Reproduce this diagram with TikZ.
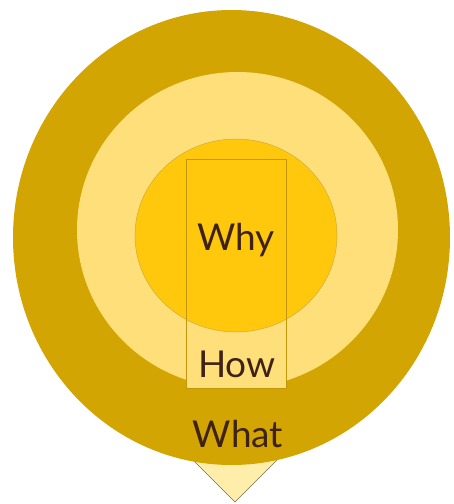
\documentclass[tikz,border=0pt]{standalone}
\usepackage{fontspec}
\setmainfont{Lato}
\definecolor{outerc}{RGB}{211,165,2}
\definecolor{midc}{RGB}{255,223,122}
\definecolor{innerc}{RGB}{255,200,12}
\definecolor{edgec}{RGB}{196,150,10}
\definecolor{tric}{RGB}{255,238,170}
\definecolor{tril}{RGB}{120,110,80}
\definecolor{txtc}{RGB}{62,34,22}
\tikzset{
  lbl/.style={text=txtc, font=\fontsize{37}{40}\selectfont, inner sep=0pt},
  boxline/.style={draw=edgec, line width=0.9pt},
}
\begin{document}
\begin{tikzpicture}[x=1pt,y=-1pt]
\useasboundingbox (0,0) rectangle (454,504);
\fill[white] (0,0) rectangle (454,504);
% pointer triangle
\coordinate (tl) at (185,452);
\coordinate (tr) at (285,452);
\coordinate (apex) at (235,502);
\filldraw[fill=tric, draw=tril, line width=0.6pt] (tl) -- (apex) -- (tr) -- cycle;
% outer ring
\fill[outerc] (231.5,237.5) ellipse [x radius=218.5, y radius=227.5];
% middle ring
\fill[midc] (237.5,230) ellipse [x radius=160.5, y radius=158];
% rectangle fill
\fill[midc] (186,159) rectangle (286,388);
% inner circle
\filldraw[fill=innerc, draw=edgec!80, line width=0.5pt] (236,235.5) ellipse [x radius=101, y radius=96.5];
% rectangle outline
\draw[boxline] (186,159) rectangle (286,388);
% labels
\node[lbl] (why) at (236,240) {Why};
\node[lbl] (how) at (237,364) {How};
\node[lbl] (what) at (238,434) {What};
\end{tikzpicture}
\end{document}
